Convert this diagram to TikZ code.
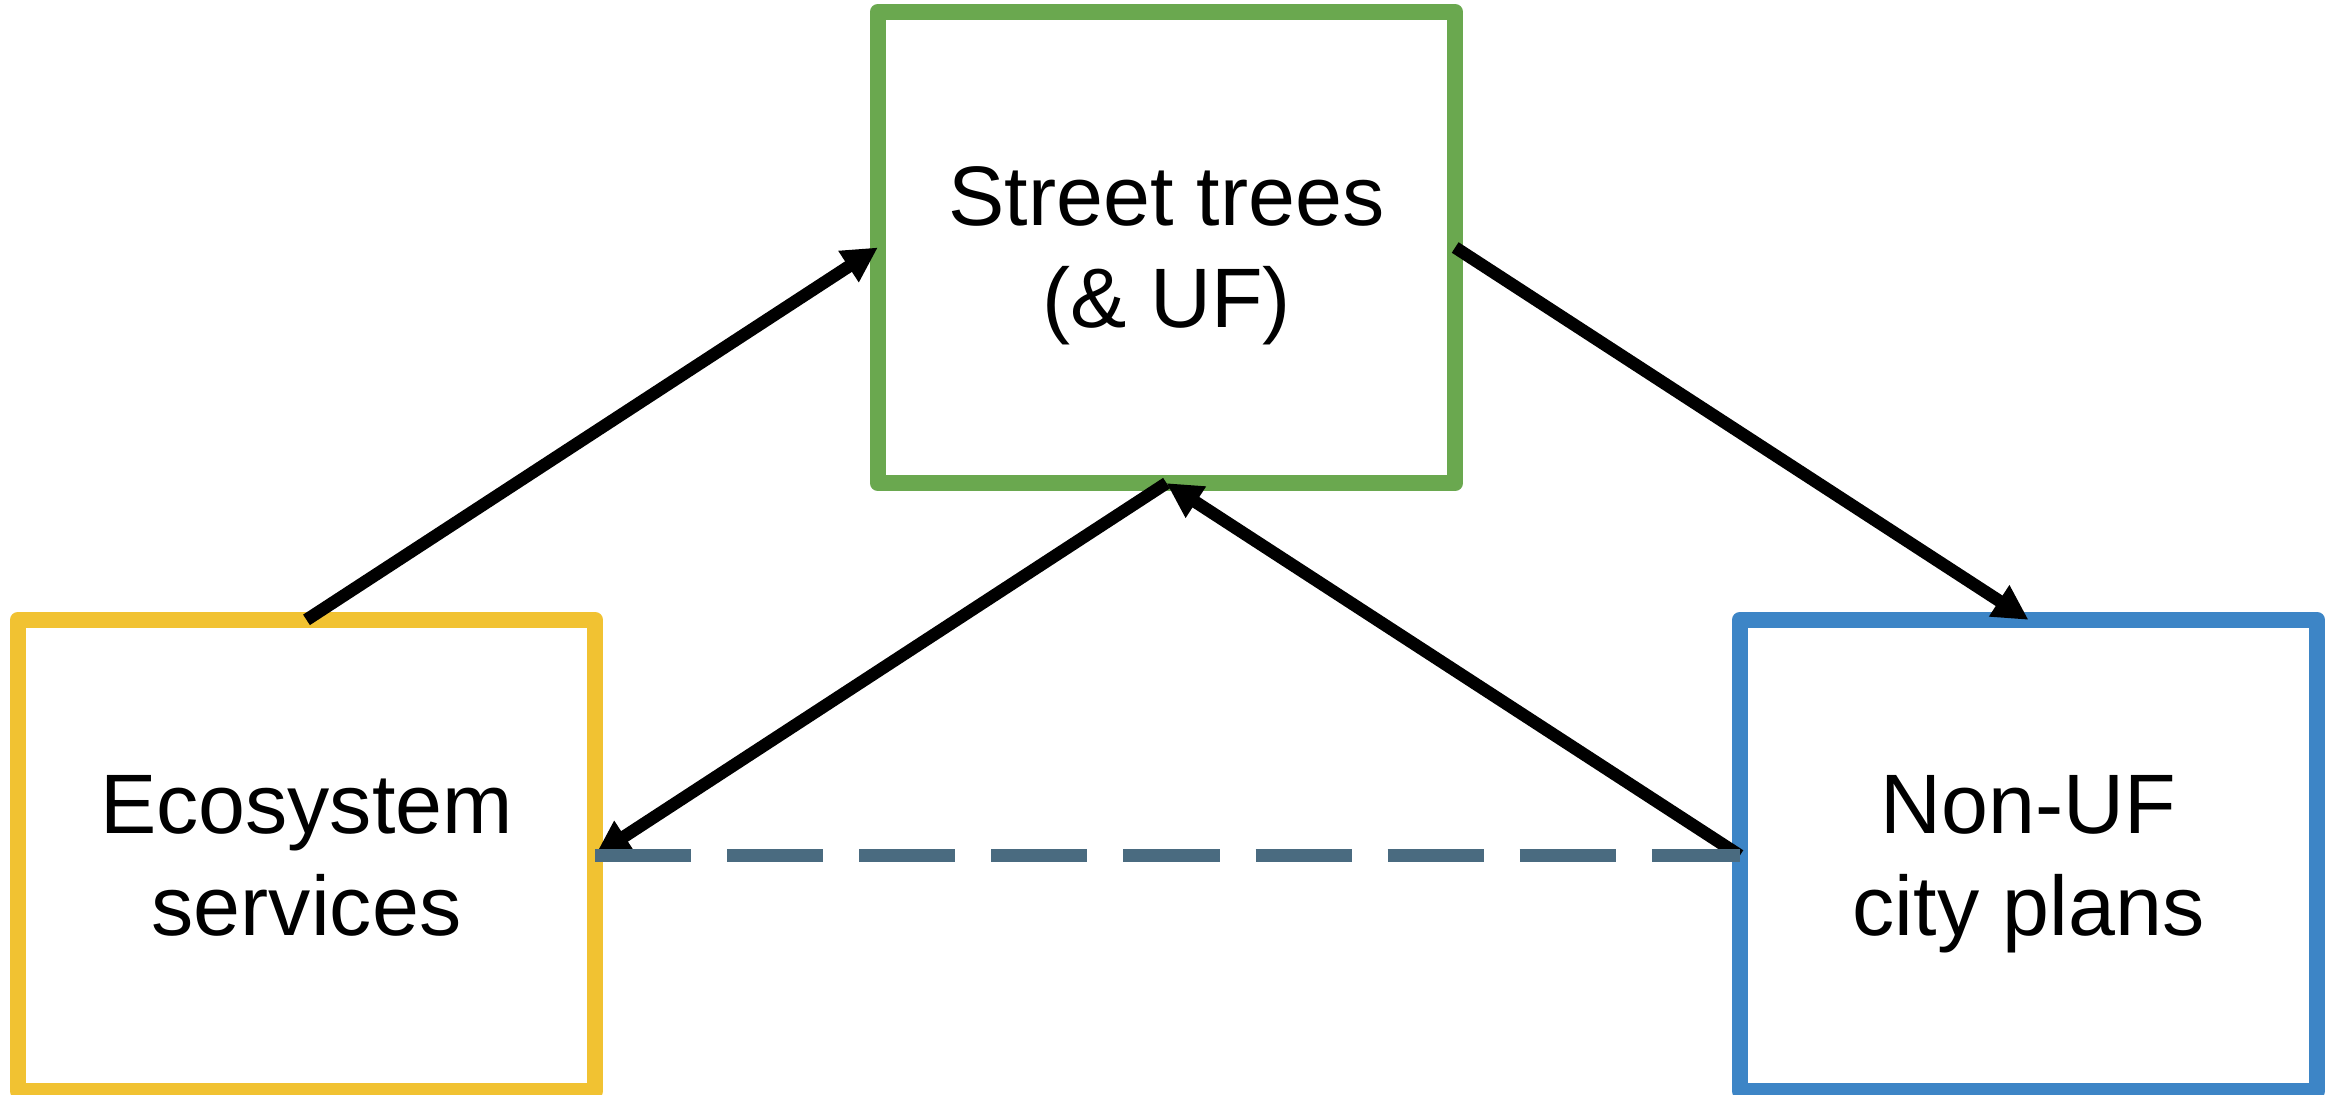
\documentclass[tikz,border=0pt]{standalone}
\usepackage{fontspec}
\setmainfont{Liberation Sans}
\usetikzlibrary{arrows.meta}
\definecolor{boxgreen}{HTML}{6AA84F}
\definecolor{boxyellow}{HTML}{F1C232}
\definecolor{boxblue}{HTML}{3D85C6}
\definecolor{dashgray}{HTML}{4A6B80}
\begin{document}
\begin{tikzpicture}[x=0.01cm,y=-0.01cm,
  box/.style={draw, line width=0.16cm, line join=round, minimum width=5.77cm,
    minimum height=4.71cm, outer sep=0pt, inner sep=0pt, align=center,
    font=\fontsize{24pt}{29pt}\selectfont, text depth=0pt, fill=white},
  flow/.style={line width=0.125cm, -{Triangle[length=0.35cm,width=0.35cm]}},
  link/.style={line width=0.125cm, draw=dashgray, dash pattern=on 0.96cm off 0.36cm}]
\useasboundingbox (0,0) rectangle (2331,1095);
\node[box, draw=boxyellow] (eco) at (306.5,855.5) {Ecosystem\\services};
\node[box, draw=boxgreen] (tree) at (1166.5,247.5) {Street trees\\(\& UF)};
\node[box, draw=boxblue] (plan) at (2028.5,855.5) {Non-UF\\city plans};
\draw[flow] (eco.north) -- (tree.west);
\draw[flow] (tree.east) -- (plan.north);
\draw[flow] (tree.south) -- (eco.east);
\draw[flow] (plan.west) -- (tree.south);
\draw[link] (eco.east) -- (plan.west);
\end{tikzpicture}
\end{document}
